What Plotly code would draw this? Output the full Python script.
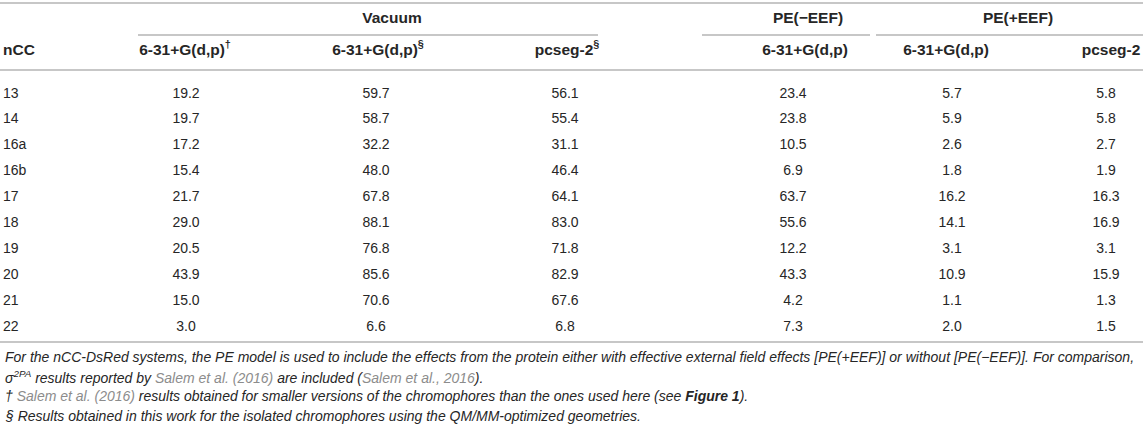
import plotly.graph_objects as go

# table values
ncc = ["13", "14", "16a", "16b", "17", "18", "19", "20", "21", "22"]
vac_631_dag = ["19.2", "19.7", "17.2", "15.4", "21.7", "29.0", "20.5", "43.9", "15.0", "3.0"]
vac_631_sec = ["59.7", "58.7", "32.2", "48.0", "67.8", "88.1", "76.8", "85.6", "70.6", "6.6"]
vac_pcseg = ["56.1", "55.4", "31.1", "46.4", "64.1", "83.0", "71.8", "82.9", "67.6", "6.8"]
pe_minus_631 = ["23.4", "23.8", "10.5", "6.9", "63.7", "55.6", "12.2", "43.3", "4.2", "7.3"]
pe_plus_631 = ["5.7", "5.9", "2.6", "1.8", "16.2", "14.1", "3.1", "10.9", "1.1", "2.0"]
pe_plus_pcseg = ["5.8", "5.8", "2.7", "1.9", "16.3", "16.9", "3.1", "15.9", "1.3", "1.5"]

groups = ["Vacuum", "PE(\u2212EEF)", "PE(+EEF)"]
col_headers = ["6-31+G(d,p)<sup>\u2020</sup>", "6-31+G(d,p)<sup>\u00a7</sup>", "pcseg-2<sup>\u00a7</sup>",
               "6-31+G(d,p)", "6-31+G(d,p)", "pcseg-2"]

LINK = "#8c8c8c"
footnotes = [
    "For the nCC-DsRed systems, the PE model is used to include the effects from the protein either with "
    "effective external field effects [PE(+EEF)] or without [PE(\u2212EEF)]. For comparison,",
    "\u03c3<sup>2PA</sup> results reported by <span style='color:%s'>Salem et al. (2016)</span> are included "
    "(<span style='color:%s'>Salem et al., 2016</span>)." % (LINK, LINK),
    "\u2020 <span style='color:%s'>Salem et al. (2016)</span> results obtained for smaller versions of the "
    "chromophores than the ones used here (see <b>Figure 1</b>)." % LINK,
    "\u00a7 Results obtained in this work for the isolated chromophores using the QM/MM-optimized geometries.",
]

# layout (pixels)
W, H = 1143, 439
col_x = [186, 376, 565, 793, 952, 1106]
head_x = [185, 378, 567, 805, 946, 1111]
group_x = [392, 808, 1018]
group_span = [(138, 598), (702, 870), (876, 1143)]
y_group, y_head, y_row0, row_step = 19, 51, 94, 25.9
y_notes = [357, 377, 396, 416]
TXT = "#262626"
RULE = "#b4b4b4"
FONT = "Liberation Sans, Arial, sans-serif"

columns = [vac_631_dag, vac_631_sec, vac_pcseg, pe_minus_631, pe_plus_631, pe_plus_pcseg]
row_y = [y_row0 + i * row_step for i in range(len(ncc))]
body_font = dict(family=FONT, size=14, color=TXT)
head_font = dict(family=FONT, size=15.5, color=TXT)

fig = go.Figure()

# nCC column
fig.add_trace(go.Scatter(x=[3] * len(ncc), y=row_y, text=ncc, mode="text",
                         textposition="middle right", textfont=body_font, cliponaxis=False))
# value columns
for cx, vals in zip(col_x, columns):
    fig.add_trace(go.Scatter(x=[cx] * len(vals), y=row_y, text=vals, mode="text",
                             textposition="middle center", textfont=body_font, cliponaxis=False))

# headers
fig.add_trace(go.Scatter(x=[3], y=[y_head], text=["<b>nCC</b>"], mode="text",
                         textposition="middle right", textfont=head_font, cliponaxis=False))
fig.add_trace(go.Scatter(x=head_x, y=[y_head] * len(head_x), text=["<b>%s</b>" % h for h in col_headers],
                         mode="text", textposition="middle center", textfont=head_font, cliponaxis=False))
fig.add_trace(go.Scatter(x=group_x, y=[y_group] * len(groups), text=["<b>%s</b>" % g for g in groups],
                         mode="text", textposition="middle center", textfont=head_font, cliponaxis=False))

# rules
def rule(x0, x1, y):
    fig.add_shape(type="line", xref="x", yref="y", x0=x0, x1=x1, y0=y, y1=y,
                  line=dict(color=RULE, width=1.6))

rule(0, W, 3)
for x0, x1 in group_span:
    rule(x0, x1, 35)
rule(0, W, 70)
rule(0, W, 342)

# footnotes
for y, t in zip(y_notes, footnotes):
    fig.add_annotation(x=3, y=y, xref="x", yref="y", text="<i>%s</i>" % t, showarrow=False,
                       xanchor="left", yanchor="middle",
                       font=dict(family=FONT, size=14, color=TXT))

fig.update_layout(width=W, height=H, margin=dict(l=0, r=0, t=0, b=0),
                  paper_bgcolor="white", plot_bgcolor="white", showlegend=False,
                  hovermode=False)
fig.update_xaxes(range=[0, W], visible=False, fixedrange=True)
fig.update_yaxes(range=[H, 0], visible=False, fixedrange=True)

fig.write_html("out.html", config={"displayModeBar": False},
               post_script="document.body.style.margin='0';document.body.style.overflow='hidden';")
